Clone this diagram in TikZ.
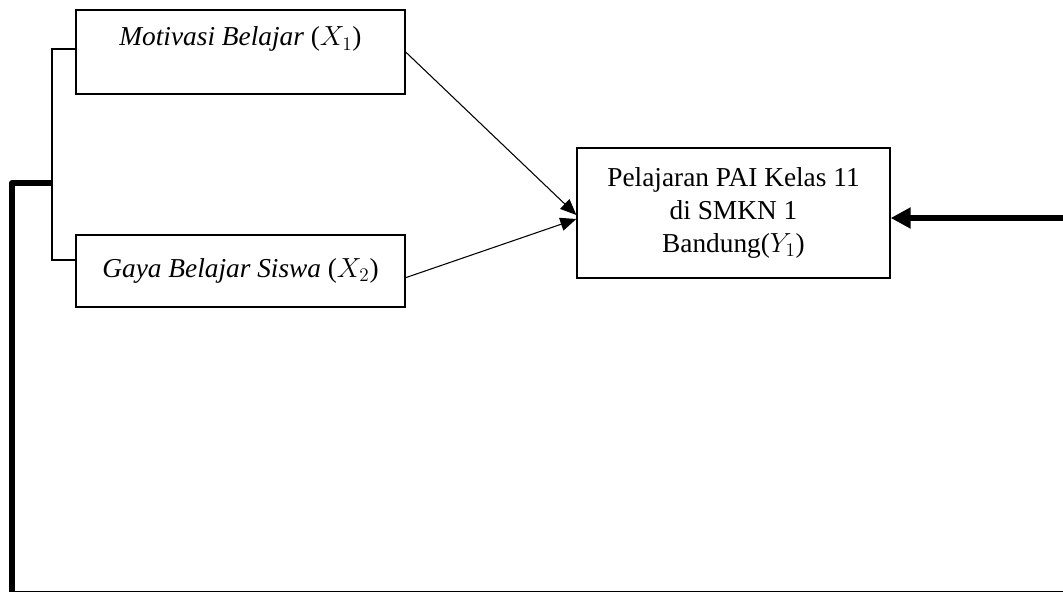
\documentclass[tikz,border=0pt]{standalone}
\usepackage{fontspec}
\setmainfont{Liberation Serif}
\usetikzlibrary{positioning, arrows.meta}

\begin{document}
\begin{tikzpicture}[
    x=0.75pt, y=-0.75pt,
    every node/.style={font=\fontsize{20.5}{18}\selectfont, align=center},
    box/.style ={draw, line width=1pt, inner sep=0pt},
    link/.style={-{Triangle[length=12pt, width=10pt]}, line width=0.8pt},
    feed/.style={-{Triangle[length=15pt, width=15pt]}, line width=4.5pt, line join=round}
]
\useasboundingbox (0,0) rectangle (1063,592);
\clip (0,0) rectangle (1063,592);
% Independent variables
\node[box, minimum width=246.75pt, minimum height=63pt] (motivasi) at (240.5,52)
    {\textit{Motivasi Belajar} ($X_1$)\\ \strut};
\node[box, minimum width=246.75pt, minimum height=54pt] (gaya) at (240.5,271)
    {\textit{Gaya Belajar Siswa} ($X_2$)};
% Dependent variable
\node[box, minimum width=234.75pt, minimum height=97.5pt,
      font=\fontsize{20.5}{24.75}\selectfont] (pai) at (733.5,213)
    {Pelajaran PAI Kelas 11\\di SMKN 1\\Bandung($Y_1$)};
% Bracket joining X1 and X2
\coordinate (top) at (52,49);
\coordinate (bot) at (52,260);
\coordinate (mid) at (52,183);
\draw[line width=0.9pt] (motivasi.west |- top) -- (top) -- (bot) -- (gaya.west |- bot);
% Arrows to Y1
\draw[link] (motivasi.east) -- ([yshift=-1.5pt]pai.west);
\draw[link] ([yshift=-5pt]gaya.east) -- ([yshift=-4.5pt]pai.west);
% Combined effect loop
\coordinate (far) at (1080,594);
\draw[feed] (mid) -- ++(-40,0) |- (far) |- ([yshift=-3.75pt]pai.east);
\end{tikzpicture}
\end{document}
